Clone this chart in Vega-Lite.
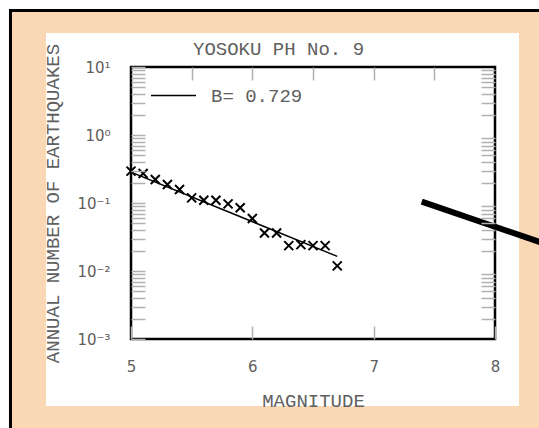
{
  "$schema": "https://vega.github.io/schema/vega-lite/v6.json",
  "autosize": {"type": "none"},
  "width": 364,
  "height": 272,
  "padding": {"left": 131, "top": 67, "right": 44, "bottom": 89},
  "background": "white",
  "title": {
    "text": "YOSOKU PH No. 9",
    "anchor": "start",
    "frame": "group",
    "dx": 62,
    "offset": -50,
    "font": "Liberation Mono",
    "fontSize": 19,
    "fontWeight": "normal",
    "color": "#606060"
  },
  "config": {"view": {"stroke": null}},
  "datasets": {
    "events": [
      {"magnitude": 5.0, "annual": 0.294},
      {"magnitude": 5.1, "annual": 0.272},
      {"magnitude": 5.2, "annual": 0.222},
      {"magnitude": 5.3, "annual": 0.1875},
      {"magnitude": 5.4, "annual": 0.158},
      {"magnitude": 5.5, "annual": 0.119},
      {"magnitude": 5.6, "annual": 0.11},
      {"magnitude": 5.7, "annual": 0.11},
      {"magnitude": 5.8, "annual": 0.097},
      {"magnitude": 5.9, "annual": 0.085},
      {"magnitude": 6.0, "annual": 0.059},
      {"magnitude": 6.1, "annual": 0.0363},
      {"magnitude": 6.2, "annual": 0.0363},
      {"magnitude": 6.3, "annual": 0.0236},
      {"magnitude": 6.4, "annual": 0.0244},
      {"magnitude": 6.5, "annual": 0.0236},
      {"magnitude": 6.6, "annual": 0.0236},
      {"magnitude": 6.7, "annual": 0.0119}
    ],
    "fit": [
      {"magnitude": 5.0, "annual": 0.285, "fit": "B= 0.729"},
      {"magnitude": 6.7, "annual": 0.01643, "fit": "B= 0.729"}
    ]
  },
  "resolve": {"axis": {"x": "independent", "y": "independent"}},
  "layer": [
    {
      "data": {"values": [{}]},
      "mark": {"type": "rect", "fill": "#fbd8b5", "stroke": "black", "strokeWidth": 3, "clip": false},
      "encoding": {
        "x": {"datum": 4.0068, "type": "quantitative", "scale": {"domain": [5, 8], "nice": false, "zero": false}, "axis": null},
        "x2": {"datum": 8.6},
        "y": {"datum": 67.75, "type": "quantitative", "scale": {"type": "log", "domain": [0.001, 10], "nice": false}, "axis": null},
        "y2": {"datum": 0.00001}
      }
    },
    {
      "data": {"values": [{}]},
      "mark": {"type": "rect", "fill": "white", "clip": false},
      "encoding": {
        "x": {"datum": 4.2994, "type": "quantitative", "axis": null},
        "x2": {"datum": 8.1978},
        "y": {"datum": 31.62, "type": "quantitative", "axis": null},
        "y2": {"datum": 0.0001035}
      }
    },
    {
      "data": {"values": [{}]},
      "mark": {"type": "rect", "fill": null, "stroke": "black", "strokeWidth": 2.5, "clip": false},
      "encoding": {
        "x": {"datum": 5, "type": "quantitative", "axis": null},
        "x2": {"datum": 8},
        "y": {"datum": 10, "type": "quantitative", "axis": null},
        "y2": {"datum": 0.001}
      }
    },
    {
      "data": {"name": "fit"},
      "mark": {"type": "line", "strokeWidth": 1.5, "clip": false},
      "encoding": {
        "x": {
          "field": "magnitude", "type": "quantitative",
          "axis": {
            "orient": "top", "values": [5.5, 6, 6.5, 7, 7.5], "labels": false,
            "tickSize": -13, "tickColor": "#b0b0b0", "tickWidth": 1.5,
            "domain": false, "grid": false, "title": null, "zindex": 1
          }
        },
        "y": {
          "field": "annual", "type": "quantitative",
          "axis": {
            "orient": "right",
            "values": [0.002, 0.003, 0.004, 0.005, 0.006, 0.007, 0.008, 0.009, 0.02, 0.03, 0.04, 0.05, 0.06, 0.07, 0.08, 0.09, 0.2, 0.3, 0.4, 0.5, 0.6, 0.7, 0.8, 0.9, 2, 3, 4, 5, 6, 7, 8, 9],
            "labels": false, "tickSize": -14, "tickColor": "#b0b0b0", "tickWidth": 1.5,
            "domain": false, "grid": false, "title": null, "zindex": 1
          }
        },
        "color": {
          "field": "fit", "type": "nominal",
          "scale": {"range": ["black"]},
          "legend": {
            "orient": "none", "legendX": 19, "legendY": 5, "padding": 0,
            "title": null, "symbolType": "stroke", "symbolSize": 2025,
            "symbolStrokeWidth": 1.5, "labelFont": "Liberation Mono",
            "labelFontSize": 19, "labelColor": "#606060", "labelOffset": 14,
            "zindex": 1
          }
        }
      }
    },
    {
      "data": {"name": "events"},
      "mark": {"type": "point", "shape": "M-1,-1L1,1M-1,1L1,-1", "size": 81, "filled": false, "stroke": "black", "strokeWidth": 2, "opacity": 1, "clip": false},
      "encoding": {
        "x": {
          "field": "magnitude", "type": "quantitative",
          "axis": {
            "orient": "bottom", "values": [5, 5.5, 6, 6.5, 7, 7.5, 8], "format": "d",
            "labelExpr": "datum.value % 1 == 0 ? datum.label : ''",
            "tickSize": -13, "tickColor": "#b0b0b0", "tickWidth": 1.5,
            "labelPadding": 33, "labelFont": "DejaVu Sans", "labelFontSize": 15,
            "labelColor": "#606060", "labelFlush": false, "labelOverlap": false,
            "domain": false, "grid": false, "zindex": 1,
            "title": "MAGNITUDE", "titleFont": "Liberation Mono", "titleFontSize": 19,
            "titleFontWeight": "normal", "titleColor": "#606060",
            "titleX": 182, "titleY": 61, "titleAlign": "center", "titleBaseline": "middle"
          }
        },
        "y": {
          "field": "annual", "type": "quantitative",
          "axis": {
            "orient": "left",
            "values": [0.001, 0.002, 0.003, 0.004, 0.005, 0.006, 0.007, 0.008, 0.009, 0.01, 0.02, 0.03, 0.04, 0.05, 0.06, 0.07, 0.08, 0.09, 0.1, 0.2, 0.3, 0.4, 0.5, 0.6, 0.7, 0.8, 0.9, 1, 2, 3, 4, 5, 6, 7, 8, 9, 10],
            "labelExpr": "abs(log(datum.value) / LN10 - round(log(datum.value) / LN10)) < 0.000001 ? '10' + (round(log(datum.value) / LN10) == 1 ? '¹' : round(log(datum.value) / LN10) == 0 ? '⁰' : round(log(datum.value) / LN10) == -1 ? '⁻¹' : round(log(datum.value) / LN10) == -2 ? '⁻²' : '⁻³') : ''",
            "tickSize": -14, "tickColor": "#b0b0b0", "tickWidth": 1.5,
            "labelPadding": 35, "labelFont": "DejaVu Sans", "labelFontSize": 15,
            "labelColor": "#606060", "labelFlush": false, "labelOverlap": false,
            "domain": false, "grid": false, "zindex": 1,
            "title": "ANNUAL NUMBER OF EARTHQUAKES", "titleFont": "Liberation Mono", "titleFontSize": 19,
            "titleFontWeight": "normal", "titleColor": "#606060",
            "titleX": -79, "titleY": 136, "titleAngle": -90, "titleAlign": "center", "titleBaseline": "middle"
          }
        }
      }
    },
    {
      "data": {"values": [{}]},
      "mark": {"type": "rule", "stroke": "black", "strokeWidth": 6, "strokeCap": "butt", "clip": false},
      "encoding": {
        "x": {"datum": 7.396, "type": "quantitative", "axis": null},
        "y": {"datum": 0.1045, "type": "quantitative", "axis": null},
        "x2": {"datum": 8.536},
        "y2": {"datum": 0.02113}
      }
    }
  ]
}
